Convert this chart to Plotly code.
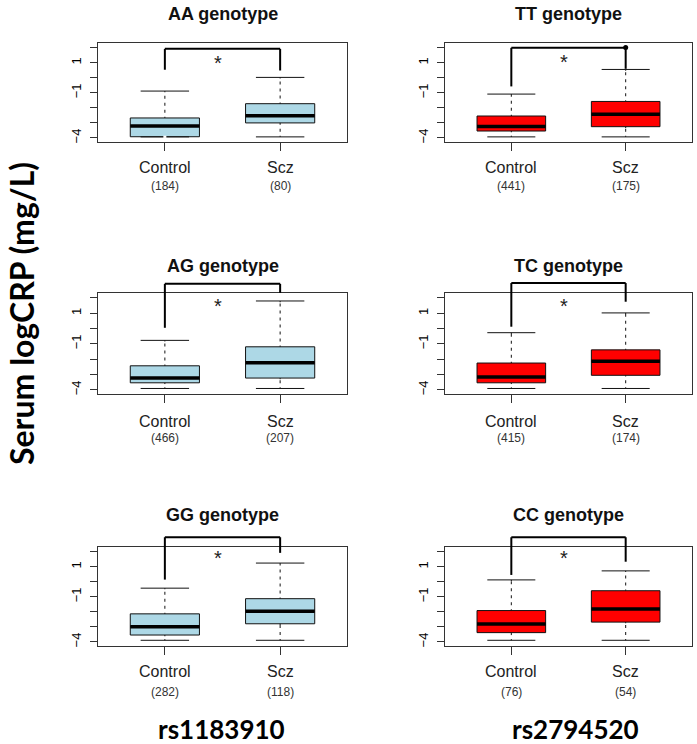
import plotly.graph_objects as go

# ---------------- data ----------------
categories = ["Control", "Scz"]
left_titles = ["AA genotype", "AG genotype", "GG genotype"]
right_titles = ["TT genotype", "TC genotype", "CC genotype"]
snp_labels = ["rs1183910", "rs2794520"]

# sample sizes (Control, Scz)
n_AA = [184, 80]
n_AG = [466, 207]
n_GG = [282, 118]
n_TT = [441, 175]
n_TC = [415, 174]
n_CC = [76, 54]

# box statistics: [lower fence, q1, median, q3, upper fence]
AA_control = [-3.93, -3.92, -3.20, -2.67, -0.88]
AA_scz = [-3.93, -3.00, -2.52, -1.72, 0.03]
AG_control = [-3.91, -3.54, -3.23, -2.43, -0.77]
AG_scz = [-3.91, -3.23, -2.23, -1.19, 1.80]
GG_control = [-3.89, -3.54, -2.99, -2.13, -0.42]
GG_scz = [-3.89, -2.79, -1.96, -1.12, 1.25]
TT_control = [-3.93, -3.54, -3.23, -2.54, -1.08]
TT_scz = [-3.93, -3.25, -2.43, -1.57, 0.56]
TC_control = [-3.91, -3.54, -3.16, -2.25, -0.27]
TC_scz = [-3.91, -3.05, -2.14, -1.39, 1.02]
CC_control = [-3.89, -3.38, -2.81, -1.91, 0.13]
CC_scz = [-3.89, -2.68, -1.80, -0.59, 0.73]

# outliers (Scz group)
TT_scz_outliers = [2.02]

# significance brackets: [top, control leg end, scz leg end]
AA_bracket = [1.93, 0.54, 0.49]
AG_bracket = [2.92, 0.05, 2.33]
GG_bracket = [2.97, 0.15, 1.93]
TT_bracket = [2.00, -0.57, 0.60]
TC_bracket = [2.97, 0.12, 1.75]
CC_bracket = [2.97, 0.46, 1.34]
star_y = [1.29, 1.79, 1.87, 1.35, 1.80, 1.87]  # AA, AG, GG, TT, TC, CC

ytick_vals = [-4, -3, -2, -1, 0, 1, 2]
ytick_text = ["\u22124", "", "", "\u22121", "", "1", ""]

# ---------------- layout constants ----------------
W, H = 697, 744
X_RANGE = [0.42, 2.58]
Y_RANGE = [-4.27, 2.32]
BOX_W = 0.6
col_px = [(98, 347), (445, 692)]
row_px = [(43, 142), (293, 394), (547, 646)]
title_px = [14, 266, 515]
cat_px = [167, 421, 671]
cnt_px = [186, 438, 692]
snp_px = [(222, 729), (575, 729)]
fills = ["#ADD8E6", "#FF0000"]
FONT = "Liberation Sans, Arial, Helvetica, sans-serif"

panels = [
    # (col, row, title, control, scz, counts, bracket, outliers)
    (0, 0, left_titles[0], AA_control, AA_scz, n_AA, AA_bracket, []),
    (0, 1, left_titles[1], AG_control, AG_scz, n_AG, AG_bracket, []),
    (0, 2, left_titles[2], GG_control, GG_scz, n_GG, GG_bracket, []),
    (1, 0, right_titles[0], TT_control, TT_scz, n_TT, TT_bracket, TT_scz_outliers),
    (1, 1, right_titles[1], TC_control, TC_scz, n_TC, TC_bracket, []),
    (1, 2, right_titles[2], CC_control, CC_scz, n_CC, CC_bracket, []),
]


def py(p):
    return 1 - p / H


def px_(p):
    return p / W


def xdom(v):
    return (v - X_RANGE[0]) / (X_RANGE[1] - X_RANGE[0])


def ydom(v):
    return (v - Y_RANGE[0]) / (Y_RANGE[1] - Y_RANGE[0])


fig = go.Figure()
annotations = []
shapes = []

for k, (col, row, title, ctrl, scz, counts, br, outl) in enumerate(panels, start=1):
    xa = "x" if k == 1 else f"x{k}"
    ya = "y" if k == 1 else f"y{k}"
    xl = "xaxis" if k == 1 else f"xaxis{k}"
    yl = "yaxis" if k == 1 else f"yaxis{k}"
    fill = fills[col]

    for j, stats in enumerate([ctrl, scz]):
        pos = j + 1
        lf, q1, med, q3, uf = stats
        fig.add_trace(go.Box(
            x=[pos], q1=[q1], median=[med], q3=[q3], lowerfence=[lf], upperfence=[uf],
            width=BOX_W, fillcolor=fill, line=dict(color="#111111", width=1),
            whiskerwidth=0.7, boxpoints=False, xaxis=xa, yaxis=ya,
            showlegend=False, hoverinfo="skip"))
        # dashed appearance of whiskers
        fig.add_trace(go.Scatter(
            x=[pos, pos, None, pos, pos], y=[q3 + 0.08, uf - 0.08, None, lf + 0.08, q1 - 0.08],
            mode="lines", line=dict(color="white", width=3, dash="4px,3px"),
            xaxis=xa, yaxis=ya, showlegend=False, hoverinfo="skip"))
        # thick median
        fig.add_trace(go.Scatter(
            x=[pos - BOX_W / 2, pos + BOX_W / 2], y=[med, med], mode="lines",
            line=dict(color="black", width=3.5), xaxis=xa, yaxis=ya,
            showlegend=False, hoverinfo="skip"))

    if outl:
        fig.add_trace(go.Scatter(
            x=[2] * len(outl), y=outl, mode="markers",
            marker=dict(color="black", size=5), xaxis=xa, yaxis=ya,
            showlegend=False, hoverinfo="skip", cliponaxis=False))

    x0p, x1p = col_px[col]
    y0p, y1p = row_px[row]
    fig.update_layout(**{
        xl: dict(domain=[px_(x0p), px_(x1p)], range=X_RANGE, anchor=ya,
                 tickvals=[1, 2], ticktext=["", ""], ticks="outside", ticklen=8,
                 tickcolor="#333", showgrid=False, zeroline=False, showline=True,
                 mirror=True, linecolor="#333", linewidth=1, fixedrange=True),
        yl: dict(domain=[py(y1p), py(y0p)], range=Y_RANGE, anchor=xa,
                 tickvals=ytick_vals, ticktext=ytick_text, ticks="outside", ticklen=7,
                 tickcolor="#333", tickangle=-90, ticklabelstandoff=4,
                 tickfont=dict(family=FONT, size=13, color="black"),
                 showgrid=False, zeroline=False, showline=True, mirror=True,
                 linecolor="#333", linewidth=1, fixedrange=True),
    })

    # bracket
    top, lb, rb = br
    for (xa0, ya0, xa1, ya1) in [(1, lb, 1, top), (1, top, 2, top), (2, top, 2, rb)]:
        shapes.append(dict(type="line", xref=f"{xa} domain", yref=f"{ya} domain",
                           x0=xdom(xa0), y0=ydom(ya0), x1=xdom(xa1), y1=ydom(ya1),
                           line=dict(color="black", width=2)))
    annotations.append(dict(text="*", x=1.46, y=star_y[k - 1] - 0.3, xref=xa, yref=ya,
                            showarrow=False, font=dict(family=FONT, size=20, color="#222"),
                            xanchor="center", yanchor="middle"))

    # title
    annotations.append(dict(text=f"<b>{title}</b>", x=px_((x0p + x1p) / 2), y=py(title_px[row]),
                            xref="paper", yref="paper", showarrow=False,
                            font=dict(family=FONT, size=18, color="#111"),
                            xanchor="center", yanchor="middle"))
    # category labels and counts
    for j, cat in enumerate(categories):
        annotations.append(dict(text=cat, x=j + 1, y=py(cat_px[row]), xref=xa, yref="paper",
                                showarrow=False, font=dict(family=FONT, size=16, color="#222"),
                                xanchor="center", yanchor="middle"))
        annotations.append(dict(text=f"({counts[j]})", x=j + 1, y=py(cnt_px[row]), xref=xa,
                                yref="paper", showarrow=False,
                                font=dict(family=FONT, size=12, color="#333"),
                                xanchor="center", yanchor="middle"))

for i, lab in enumerate(snp_labels):
    annotations.append(dict(text=f"<b>{lab}</b>", x=px_(snp_px[i][0]), y=py(snp_px[i][1]),
                            xref="paper", yref="paper", showarrow=False,
                            font=dict(family="Lato, sans-serif", size=26, color="black"),
                            xanchor="center", yanchor="middle"))

annotations.append(dict(text="<b>Serum logCRP (mg/L)</b>", x=px_(21), y=py(314),
                        xref="paper", yref="paper", showarrow=False, textangle=-90,
                        font=dict(family="Lato, sans-serif", size=32, color="black"),
                        xanchor="center", yanchor="middle"))

fig.update_layout(width=W, height=H, margin=dict(l=0, r=0, t=0, b=0),
                  paper_bgcolor="white", plot_bgcolor="white",
                  annotations=annotations, shapes=shapes, showlegend=False)

fig.write_html("out.html", config={"displayModeBar": False},
               post_script="document.body.style.margin='0';document.body.style.overflow='hidden';")
